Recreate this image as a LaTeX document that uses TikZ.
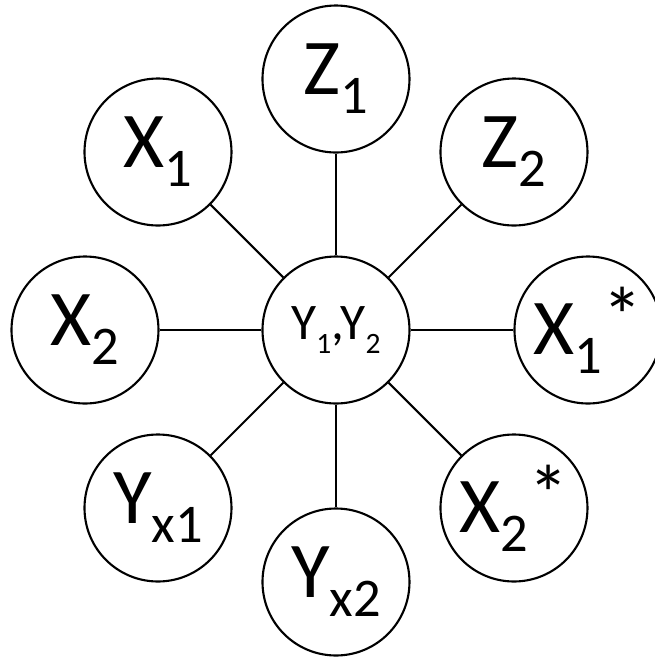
\documentclass[tikz,border=0pt]{standalone}
\usepackage{fontspec}
\setmainfont{Carlito}
\newcommand{\sublab}[2]{#1\raisebox{-0.19cm}{\fontsize{15.5}{16}\selectfont #2}}
\newcommand{\starlab}[2]{#1\raisebox{-0.19cm}{\fontsize{15.5}{16}\selectfont #2}\raisebox{0.1cm}{\fontsize{23}{24}\selectfont *}}
\begin{document}
\begin{tikzpicture}[
    var/.style={draw, circle, line width=0.6pt, minimum size=1.47cm, inner sep=0pt,
        font=\fontsize{22.5}{24}\selectfont},
    link/.style={line width=0.6pt}
]
    \useasboundingbox (-3.36,-3.27) rectangle (3.18,3.30);

    \node[var, font=\fontsize{14.6}{16}\selectfont] (yy) at (0,0)
        {Y\raisebox{-0.14cm}{\fontsize{8.4}{9}\selectfont 1},Y\raisebox{-0.14cm}{\fontsize{8.4}{9}\selectfont 2}};

    \node[var] (z1) at (0,2.51) {\sublab{Z}{1}};
    \node[var] (x1) at (-1.78,1.78) {\sublab{X}{1}};
    \node[var] (z2) at (1.78,1.78) {\sublab{Z}{2}};
    \node[var] (x2) at (-2.51,0) {\sublab{X}{2}};
    \node[var] (x1s) at (2.52,0) {\starlab{X}{1}};
    \node[var] (yx1) at (-1.78,-1.78) {\sublab{Y}{x1}};
    \node[var] (x2s) at (1.78,-1.78) {\starlab{X}{2}};
    \node[var] (yx2) at (0,-2.52) {\sublab{Y}{x2}};

    \draw[link] (yy) -- (z1);
    \draw[link] (yy) -- (x1);
    \draw[link] (yy) -- (z2);
    \draw[link] (yy) -- (x2);
    \draw[link] (yy) -- (x1s);
    \draw[link] (yy) -- (yx1);
    \draw[link] (yy) -- (x2s);
    \draw[link] (yy) -- (yx2);
\end{tikzpicture}
\end{document}
